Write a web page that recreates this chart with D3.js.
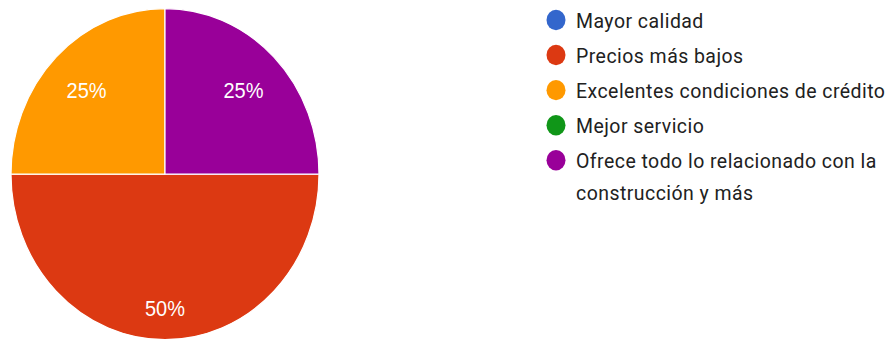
<!DOCTYPE html>
<html>
<head>
<meta charset="utf-8">
<script src="https://cdn.jsdelivr.net/npm/d3@7"></script>
<style>
  html, body { margin: 0; padding: 0; background: #fff; }
  svg { display: block; }
</style>
</head>
<body>
<svg id="chart" width="890" height="341"></svg>
<script>
const categories = ["Mayor calidad", "Precios más bajos", "Excelentes condiciones de crédito", "Mejor servicio", "Ofrece todo lo relacionado con la construcción y más"];
const values = [0, 50, 25, 0, 25];
const colors = ["#3366cc", "#dc3912", "#ff9900", "#109618", "#990099"];
const legendLines = [["Mayor calidad"], ["Precios más bajos"], ["Excelentes condiciones de crédito"], ["Mejor servicio"], ["Ofrece todo lo relacionado con la", "construcción y más"]];

const svg = d3.select("#chart");
const root = svg.append("g").attr("transform", "scale(1,1.075)");

const cx = 165, cy = 162, r = 154;
const total = d3.sum(values);
const pie = d3.pie().sort(null).value(d => d)
  .startAngle(Math.PI / 2).endAngle(Math.PI / 2 + 2 * Math.PI);
const arcs = pie(values);
const arc = d3.arc().innerRadius(0).outerRadius(r);

const pg = root.append("g").attr("transform", `translate(${cx},${cy})`);
pg.selectAll("path").data(arcs.filter(d => d.value > 0)).join("path")
  .attr("d", arc)
  .attr("fill", d => colors[d.index])
  .attr("stroke", "#fff").attr("stroke-width", 1.2);

pg.selectAll("text").data(arcs.filter(d => d.value > 0)).join("text")
  .attr("transform", d => {
    const share = d.value / total;
    const lr = r * (0.63 + 0.36 * share);
    const c = d3.arc().innerRadius(lr).outerRadius(lr).centroid(d);
    return `translate(${c[0]},${c[1]})`;
  })
  .attr("text-anchor", "middle")
  .attr("dy", "0.36em")
  .attr("fill", "#fff")
  .style("font-family", "'Liberation Sans', Arial, sans-serif")
  .style("font-size", "20px")
  .text(d => Math.round(d.value / total * 100) + "%");

const lg = root.append("g").attr("transform", "translate(556,18.6)");
const rowY = d3.scalePoint().domain(d3.range(categories.length)).range([0, 130.5]);
const item = lg.selectAll("g").data(categories).join("g")
  .attr("transform", (d, i) => `translate(0,${rowY(i)})`);
item.append("circle").attr("r", 9.5).attr("fill", (d, i) => colors[i]);
item.append("text")
  .attr("x", 20)
  .attr("fill", "#212121")
  .style("font-family", "Roboto, sans-serif")
  .style("font-size", "19.5px")
  .style("letter-spacing", "0.45px")
  .selectAll("tspan").data((d, i) => legendLines[i]).join("tspan")
  .attr("x", 20)
  .attr("y", (d, j) => j * 29.5)
  .attr("dy", "0.36em")
  .text(d => d);
</script>
</body>
</html>
